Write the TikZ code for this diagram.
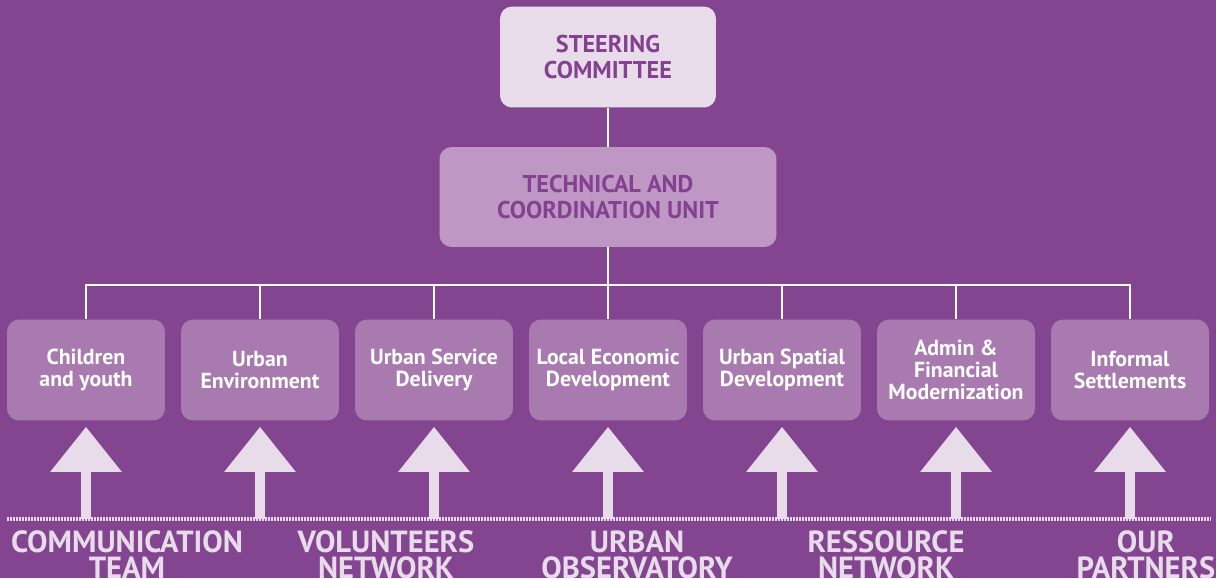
\documentclass[tikz,border=0pt]{standalone}
\usepackage{fontspec}
\setmainfont{PT Sans}
\usetikzlibrary{arrows.meta}

\definecolor{bgpurple}{HTML}{834590}
\definecolor{lilac}{HTML}{E8DCEB}
\definecolor{midlilac}{HTML}{BF97C4}
\definecolor{unitlilac}{HTML}{A87AAF}
\definecolor{deeppurple}{HTML}{83418F}

\begin{document}
\begin{tikzpicture}[x=0.02cm, y=-0.02cm]
  \tikzset{
  box/.style={rounded corners=0.24cm, inner sep=0pt, align=center},
  top_box/.style={box, fill=lilac, text=deeppurple,
    minimum width=4.32cm, minimum height=2.02cm,
    font=\bfseries\fontsize{13.8}{15.3}\selectfont},
  mid_box/.style={box, fill=midlilac, text=deeppurple,
    minimum width=6.74cm, minimum height=2.0cm,
    font=\bfseries\fontsize{13.8}{15.3}\selectfont},
  unit_box/.style={box, fill=unitlilac, text=white,
    minimum width=3.16cm, minimum height=2.02cm,
    font=\bfseries\fontsize{12.4}{12.6}\selectfont},
  link/.style={draw=white, line width=0.04cm},
  up_arrow/.style={draw=lilac, line width=0.2cm,
    -{Triangle[width=1.38cm, length=0.9cm]}, shorten >=0.12cm},
  base_label/.style={text=lilac, inner sep=0pt, anchor=north, align=center,
    font=\bfseries\fontsize{17.4}{14.8}\selectfont}
}

  % background
  \fill[bgpurple] (0,0) rectangle (1216,578);
  \useasboundingbox (0,0) rectangle (1216,578);

  % top of the chart
  \node[top_box] (steer) at (608,57) {STEERING\\COMMITTEE};
  \node[mid_box] (tcu) at (608,197) {TECHNICAL AND\\COORDINATION UNIT};

  % units
  \node[unit_box] (u1) at (86,370) {Children\\and youth};
  \node[unit_box] (u2) at (260,370) {Urban\\Environment};
  \node[unit_box] (u3) at (434,370) {Urban Service\\Delivery};
  \node[unit_box] (u4) at (608,370) {Local Economic\\Development};
  \node[unit_box] (u5) at (782,370) {Urban Spatial\\Development};
  \node[unit_box] (u6) at (956,370) {Admin \&\\Financial\\Modernization};
  \node[unit_box] (u7) at (1130,370) {Informal\\Settlements};

  % tree lines
  \coordinate (bus) at (608,285);
  \draw[link] (steer.south) -- (tcu.north);
  \draw[link] (tcu.south) -- (bus);
  \draw[link] (bus) -| (u1.north);
  \draw[link] (bus) -| (u2.north);
  \draw[link] (bus) -| (u3.north);
  \draw[link] (bus) -- (u4.north);
  \draw[link] (bus) -| (u5.north);
  \draw[link] (bus) -| (u6.north);
  \draw[link] (bus) -| (u7.north);

  % ground line
  \coordinate (gl) at (7,519);
  \coordinate (gr) at (1210,519);
  \draw[lilac, line width=0.07cm, dash pattern=on 0.04cm off 0.02cm] (gl) -- (gr);

  % arrows
  \coordinate (b1) at (86,519);
  \coordinate (b2) at (260,519);
  \coordinate (b3) at (434,519);
  \coordinate (b4) at (608,519);
  \coordinate (b5) at (782,519);
  \coordinate (b6) at (956,519);
  \coordinate (b7) at (1130,519);
  \draw[up_arrow] (b1) -- (u1.south);
  \draw[up_arrow] (b2) -- (u2.south);
  \draw[up_arrow] (b3) -- (u3.south);
  \draw[up_arrow] (b4) -- (u4.south);
  \draw[up_arrow] (b5) -- (u5.south);
  \draw[up_arrow] (b6) -- (u6.south);
  \draw[up_arrow] (b7) -- (u7.south);

  % labels
  \node[base_label] (l1) at (127,530) {COMMUNICATION\\TEAM};
  \node[base_label] (l2) at (386,530) {VOLUNTEERS\\NETWORK};
  \node[base_label] (l3) at (637,530) {URBAN\\OBSERVATORY};
  \node[base_label] (l4) at (886,530) {RESSOURCE\\NETWORK};
  \node[base_label] (l5) at (1146,530) {OUR\\PARTNERS};
\end{tikzpicture}
\end{document}
